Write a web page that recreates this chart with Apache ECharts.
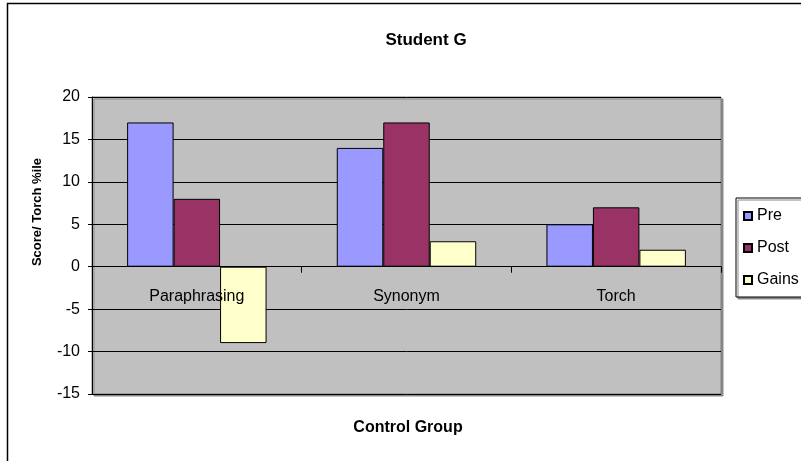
<!DOCTYPE html>
<html>
<head>
<meta charset="utf-8">
<script src="https://cdn.jsdelivr.net/npm/echarts@6/dist/echarts.min.js"></script>
<style>
  html, body { margin: 0; padding: 0; background: #fff; }
  #chart { width: 801px; height: 461px; }
</style>
</head>
<body>
<div id="chart"></div>
<script>
// Student G — control group scores
const categories = ['Paraphrasing', 'Synonym', 'Torch'];
const preScores = [17, 14, 5];
const postScores = [8, 17, 7];
const gains = [-9, 3, 2];
const yTicks = { min: -15, max: 20, interval: 5 };

const FONT = '"Liberation Sans", Arial, sans-serif';
const chart = echarts.init(document.getElementById('chart'), null, { renderer: 'canvas' });

function barSeries(name, data, color) {
  return {
    name: name,
    type: 'bar',
    data: data,
    barGap: '0%',
    barCategoryGap: '33.5%',
    itemStyle: { color: color, borderColor: '#000', borderWidth: 1 },
    emphasis: { disabled: true }
  };
}

chart.setOption({
  animation: false,
  textStyle: { fontFamily: FONT },
  title: {
    text: 'Student G',
    left: 421,
    top: 27,
    textAlign: 'center',
    textStyle: { fontFamily: FONT, fontSize: 17, fontWeight: 'bold', color: '#000' }
  },
  grid: {
    left: 92, right: 80, top: 97, bottom: 67,
    show: true,
    backgroundColor: '#C0C0C0',
    borderColor: '#808080',
    borderWidth: 1,
    shadowColor: '#8a8a8a',
    shadowBlur: 0,
    shadowOffsetX: 2,
    shadowOffsetY: 2
  },
  legend: {
    orient: 'vertical',
    left: 736,
    top: 198,
    padding: [10, 40, 9, 7],
    itemWidth: 8,
    itemHeight: 8,
    itemGap: 16,
    icon: 'rect',
    backgroundColor: '#fff',
    borderColor: '#000',
    borderWidth: 1,
    shadowColor: '#8a8a8a',
    shadowBlur: 0,
    shadowOffsetX: 2,
    shadowOffsetY: 2,
    textStyle: { fontFamily: FONT, fontSize: 16, color: '#000' },
    data: ['Pre', 'Post', 'Gains']
  },
  xAxis: {
    type: 'category',
    data: categories,
    z: 10,
    axisLine: { onZero: false, lineStyle: { color: '#000', width: 1 } },
    axisTick: { show: true, inside: false, length: 6, alignWithLabel: false, lineStyle: { color: '#000' } },
    axisLabel: { margin: 22, fontSize: 16, color: '#000', fontFamily: FONT },
    splitLine: { show: false }
  },
  yAxis: {
    type: 'value',
    min: yTicks.min,
    max: yTicks.max,
    interval: yTicks.interval,
    axisLine: { show: true, onZero: false, lineStyle: { color: '#000', width: 1 } },
    axisTick: { show: true, inside: false, length: 4, lineStyle: { color: '#000' } },
    axisLabel: { margin: 12, fontSize: 16, color: '#000', fontFamily: FONT },
    splitLine: { show: true, lineStyle: { color: '#000', width: 1 } }
  },
  series: [
    barSeries('Pre', preScores, '#9999FF'),
    barSeries('Post', postScores, '#993366'),
    barSeries('Gains', gains, '#FFFFCC')
  ],
  graphic: [
    {
      type: 'rect',
      z: -10,
      silent: true,
      shape: { x: 7.5, y: 3.5, width: 820, height: 480 },
      style: { fill: 'none', stroke: '#000', lineWidth: 1.5 }
    },
    {
      type: 'text',
      x: 408, y: 428,
      silent: true,
      style: {
        text: 'Control Group',
        font: 'bold 16px ' + FONT,
        fill: '#000',
        align: 'center',
        verticalAlign: 'middle'
      }
    },
    {
      type: 'text',
      x: 37, y: 212,
      rotation: Math.PI / 2,
      silent: true,
      style: {
        text: 'Score/ Torch %ile',
        font: 'bold 13px ' + FONT,
        fill: '#000',
        align: 'center',
        verticalAlign: 'middle'
      }
    }
  ]
});

// Move the category axis (line, ticks and labels) up to the value-axis zero line.
const zeroY = chart.convertToPixel({ yAxisIndex: 0 }, 0);
const gridBottomY = chart.convertToPixel({ yAxisIndex: 0 }, yTicks.min);
chart.setOption({ xAxis: { offset: -(gridBottomY - zeroY) } });
</script>
</body>
</html>
